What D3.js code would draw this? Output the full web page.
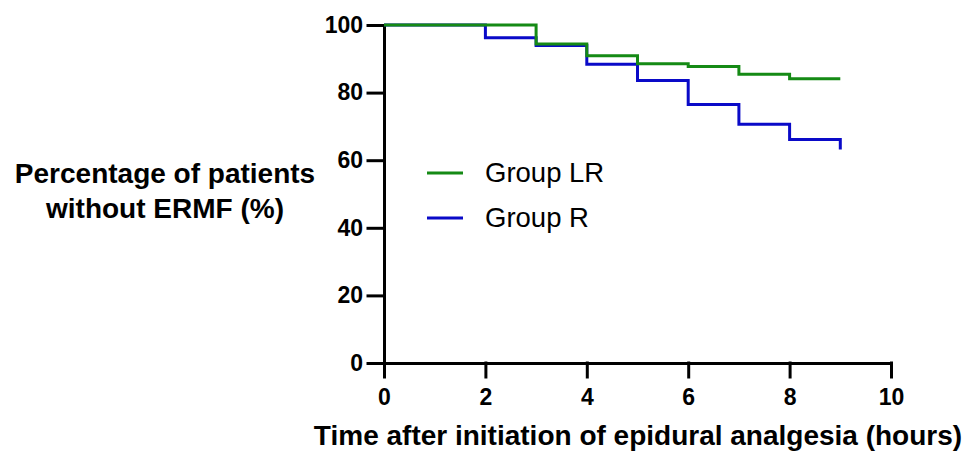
<!DOCTYPE html>
<html>
<head>
<meta charset="utf-8">
<script src="https://cdn.jsdelivr.net/npm/d3@7/dist/d3.min.js"></script>
<style>
  html, body { margin: 0; padding: 0; background: #fff; }
  svg { display: block; font-family: "Liberation Sans", Arial, sans-serif; }
  .axis path, .axis line { stroke: #000; stroke-width: 3px; stroke-linecap: square; }
  .km { fill: none; stroke-width: 3px; }
</style>
</head>
<body>
<div id="chart"></div>
<script>
// Kaplan-Meier steps (time in hours, % without ERMF)
const lrTimes = [0, 3, 4, 5, 6, 7, 8, 9];
const lrValues = [100, 94.4, 90.9, 88.5, 87.7, 85.4, 84.1, 84.1];
const rTimes = [0, 2, 3, 4, 5, 6, 7, 8, 9];
const rValues = [100, 96.2, 93.9, 88.4, 83.6, 76.5, 70.6, 66.1, 63.2];

const xTicks = [0, 2, 4, 6, 8, 10];
const yTicks = [0, 20, 40, 60, 80, 100];
const groups = ["Group LR", "Group R"];
const colors = ["#158a15", "#0a0ac8"];

const width = 966;
const height = 452;
const margins = { top: 25, right: 75, bottom: 89, left: 384 };
const innerWidth = width - margins.left - margins.right;
const innerHeight = height - margins.top - margins.bottom;

const svg = d3.select('#chart')
  .append('svg')
  .attr('width', width)
  .attr('height', height);

const g = svg.append('g')
  .attr('transform', `translate(${margins.left}, ${margins.top})`);

const xScale = d3.scaleLinear().domain([0, 10]).range([0, innerWidth]);
const yScale = d3.scaleLinear().domain([0, 100]).range([innerHeight, 0]);

const xAxis = d3.axisBottom(xScale)
  .tickValues(xTicks)
  .tickSizeInner(14)
  .tickSizeOuter(0)
  .tickPadding(12);

const yAxis = d3.axisLeft(yScale)
  .tickValues(yTicks)
  .tickSizeInner(16)
  .tickSizeOuter(0)
  .tickPadding(5);

// d3 puts font attributes on the axis group; set them on the labels instead
function styleTicks(sel) {
  sel.attr('font-family', null).attr('font-size', null);
  sel.selectAll('text')
    .attr('font-family', '"Liberation Sans", Arial, sans-serif')
    .attr('font-size', 23)
    .attr('font-weight', 'bold')
    .attr('fill', '#000');
}

g.append('g')
  .attr('class', 'x axis')
  .attr('transform', `translate(0,${innerHeight})`)
  .call(xAxis)
  .call(styleTicks);

g.append('g')
  .attr('class', 'y axis')
  .call(yAxis)
  .call(styleTicks);

// step lines
const line = d3.line()
  .x(d => xScale(d.t))
  .y(d => yScale(d.v))
  .curve(d3.curveStepAfter);

const series = [
  lrTimes.map((t, i) => ({ t, v: lrValues[i] })),
  rTimes.map((t, i) => ({ t, v: rValues[i] })),
];

// group R drops at the last time point, so draw R first and LR over it
[1, 0].forEach(i => {
  g.append('path')
    .attr('class', 'km')
    .attr('d', line(series[i]))
    .style('stroke', colors[i]);
});

// legend
const legend = svg.append('g')
  .attr('transform', 'translate(427, 173)');

groups.forEach((name, i) => {
  const row = legend.append('g').attr('transform', `translate(0, ${i * 45})`);
  row.append('line')
    .attr('x1', 0).attr('x2', 36)
    .attr('stroke', colors[i])
    .attr('stroke-width', 3);
  row.append('text')
    .attr('x', 58)
    .attr('y', 9)
    .attr('font-size', 27.5)
    .text(name);
});

// axis titles
svg.append('text')
  .attr('x', 165)
  .attr('y', 183)
  .attr('text-anchor', 'middle')
  .attr('font-size', 28)
  .attr('font-weight', 'bold')
  .text('Percentage of patients');

svg.append('text')
  .attr('x', 165)
  .attr('y', 218)
  .attr('text-anchor', 'middle')
  .attr('font-size', 28)
  .attr('font-weight', 'bold')
  .text('without ERMF (%)');

svg.append('text')
  .attr('x', 638)
  .attr('y', 445)
  .attr('text-anchor', 'middle')
  .attr('font-size', 28)
  .attr('font-weight', 'bold')
  .text('Time after initiation of epidural analgesia (hours)');
</script>
</body>
</html>
